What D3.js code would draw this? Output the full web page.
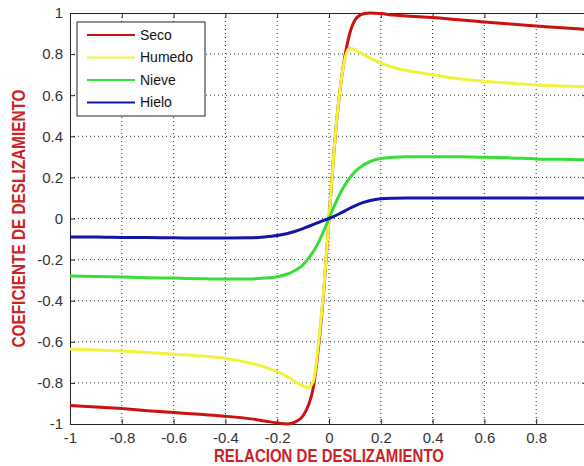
<!DOCTYPE html>
<meta charset="utf-8">

<style type="text/css">
  body {
    margin: 0;
    background: #fff;
  }

  .axis text {
    font: 15px "Liberation Sans", Arial, sans-serif;
    fill: #333;
  }

  .axis path,
  .axis line {
    stroke: #222;
  }

  .grid line {
    stroke: #333;
    stroke-dasharray: 1, 3;
  }

  .label {
    font-family: "Liberation Sans Narrow", "Arial Narrow", "Liberation Sans", sans-serif;
    font-weight: bold;
    fill: #cc2222;
  }

  .legend text {
    font: 14px "Liberation Sans", Arial, sans-serif;
    fill: #111;
  }
</style>

<body>
</body>

<script src="https://cdn.jsdelivr.net/npm/d3@7/dist/d3.min.js"></script>
<script>
  // slip ratio sampled along the x axis
  var slip = [-1, -0.9, -0.8, -0.7, -0.6, -0.5, -0.4, -0.3, -0.25, -0.2, -0.16, -0.13, -0.1, -0.08, -0.06, -0.04, -0.02,
    0, 0.02, 0.04, 0.06, 0.08, 0.1, 0.13, 0.16, 0.2, 0.25, 0.3, 0.4, 0.5, 0.6, 0.7, 0.8, 0.9, 1];

  // Seco
  var seco = [-0.91, -0.917, -0.925, -0.935, -0.944, -0.953, -0.962, -0.975, -0.985, -0.995, -1.0, -0.99, -0.96, -0.91, -0.82, -0.62, -0.35,
    0, 0.34, 0.6, 0.78, 0.9, 0.965, 0.995, 1.0, 0.997, 0.99, 0.985, 0.978, 0.967, 0.956, 0.946, 0.937, 0.928, 0.92];

  // Humedo
  var humedo = [-0.635, -0.64, -0.645, -0.652, -0.66, -0.668, -0.68, -0.705, -0.722, -0.745, -0.77, -0.795, -0.815, -0.822, -0.79, -0.6, -0.34,
    0, 0.34, 0.6, 0.77, 0.83, 0.82, 0.8, 0.78, 0.756, 0.735, 0.72, 0.7, 0.68, 0.668, 0.658, 0.65, 0.645, 0.64];

  // Nieve
  var nieve = [-0.28, -0.282, -0.285, -0.288, -0.29, -0.293, -0.295, -0.294, -0.29, -0.283, -0.27, -0.252, -0.225, -0.195, -0.16, -0.115, -0.06,
    0, 0.06, 0.115, 0.16, 0.197, 0.227, 0.258, 0.278, 0.292, 0.298, 0.3, 0.3, 0.3, 0.298, 0.295, 0.29, 0.288, 0.285];

  // Hielo
  var hielo = [-0.09, -0.09, -0.092, -0.093, -0.094, -0.095, -0.095, -0.094, -0.09, -0.083, -0.073, -0.062, -0.049, -0.039, -0.029, -0.019, -0.009,
    0, 0.011, 0.023, 0.036, 0.05, 0.062, 0.077, 0.088, 0.096, 0.099, 0.1, 0.1, 0.1, 0.1, 0.1, 0.1, 0.1, 0.1];

  var seriesNames = ["Seco", "Humedo", "Nieve", "Hielo"];
  var seriesColors = ["#cc1111", "#f2f23c", "#38dd38", "#1414a8"];
  var seriesValues = [seco, humedo, nieve, hielo];

  var xTicks = [-1, -0.8, -0.6, -0.4, -0.2, 0, 0.2, 0.4, 0.6, 0.8, 1];
  // the picture is cut just before x = 1, so its label is not shown
  var xTickLabels = ["-1", "-0.8", "-0.6", "-0.4", "-0.2", "0", "0.2", "0.4", "0.6", "0.8", ""];
  var yTicks = [-1, -0.8, -0.6, -0.4, -0.2, 0, 0.2, 0.4, 0.6, 0.8, 1];
  var yTickLabels = ["-1", "-0.8", "-0.6", "-0.4", "-0.2", "0", "0.2", "0.4", "0.6", "0.8", "1"];

  var xTitle = "RELACION DE DESLIZAMIENTO";
  var yTitle = "COEFICIENTE DE DESLIZAMIENTO";

  var margin = {
      top: 13,
      left: 70
    },
    width = 518,
    height = 411;

  var x = d3.scaleLinear().domain([-1, 1]).range([0, width]),
    y = d3.scaleLinear().domain([-1, 1]).range([height, 0]);

  var svg = d3.select("body").append("svg")
    .attr("width", 584)
    .attr("height", 466);

  var g = svg.append("g")
    .attr("transform", "translate(" + margin.left + "," + margin.top + ")");

  // dotted grid
  var grid = g.append("g").attr("class", "grid");
  grid.selectAll(".vgrid")
    .data(xTicks.slice(1, -1))
    .enter().append("line")
    .attr("x1", function(d) { return x(d); })
    .attr("x2", function(d) { return x(d); })
    .attr("y1", 0)
    .attr("y2", height);
  grid.selectAll(".hgrid")
    .data(yTicks.slice(1, -1))
    .enter().append("line")
    .attr("x1", 0)
    .attr("x2", width)
    .attr("y1", function(d) { return y(d); })
    .attr("y2", function(d) { return y(d); });

  // axes, ticks pointing inward
  g.append("g")
    .attr("class", "axis")
    .attr("transform", "translate(0," + height + ")")
    .call(d3.axisBottom(x).tickValues(xTicks).tickSize(-5).tickSizeOuter(0).tickPadding(8)
      .tickFormat(function(d, i) { return xTickLabels[i]; }));

  g.append("g")
    .attr("class", "axis")
    .call(d3.axisTop(x).tickValues(xTicks).tickSize(-5).tickSizeOuter(0).tickFormat(""));

  g.append("g")
    .attr("class", "axis")
    .call(d3.axisLeft(y).tickValues(yTicks).tickSize(-5).tickSizeOuter(0).tickPadding(7)
      .tickFormat(function(d, i) { return yTickLabels[i]; }));

  g.append("g")
    .attr("class", "axis")
    .attr("transform", "translate(" + width + ",0)")
    .call(d3.axisRight(y).tickValues(yTicks).tickSize(-5).tickSizeOuter(0).tickFormat(""));

  // curves
  var line = d3.line()
    .x(function(d) { return x(d[0]); })
    .y(function(d) { return y(d[1]); })
    .curve(d3.curveMonotoneX);

  seriesValues.forEach(function(vals, i) {
    g.append("path")
      .datum(slip.map(function(s, j) { return [s, vals[j]]; }))
      .attr("fill", "none")
      .attr("stroke", seriesColors[i])
      .attr("stroke-width", 3)
      .attr("stroke-linejoin", "round")
      .attr("d", line);
  });

  // axis titles
  svg.append("text")
    .attr("class", "label")
    .attr("x", margin.left + width / 2)
    .attr("y", 462)
    .attr("text-anchor", "middle")
    .attr("font-size", 18)
    .attr("textLength", 230)
    .attr("lengthAdjust", "spacingAndGlyphs")
    .text(xTitle);

  svg.append("text")
    .attr("class", "label")
    .attr("transform", "translate(25," + (margin.top + height / 2) + ") rotate(-90)")
    .attr("text-anchor", "middle")
    .attr("font-size", 18)
    .attr("textLength", 258)
    .attr("lengthAdjust", "spacingAndGlyphs")
    .text(yTitle);

  // legend
  var legend = svg.append("g")
    .attr("class", "legend")
    .attr("transform", "translate(77,22)");

  legend.append("rect")
    .attr("width", 128)
    .attr("height", 94)
    .attr("fill", "#fff")
    .attr("stroke", "#222");

  var rows = legend.selectAll(".row")
    .data(seriesNames)
    .enter().append("g")
    .attr("transform", function(d, i) { return "translate(0," + (13 + i * 22.5) + ")"; });

  rows.append("line")
    .attr("x1", 10)
    .attr("x2", 58)
    .attr("stroke", function(d, i) { return seriesColors[i]; })
    .attr("stroke-width", 2);

  rows.append("text")
    .attr("x", 63)
    .attr("dy", "0.35em")
    .text(function(d) { return d; });
</script>
